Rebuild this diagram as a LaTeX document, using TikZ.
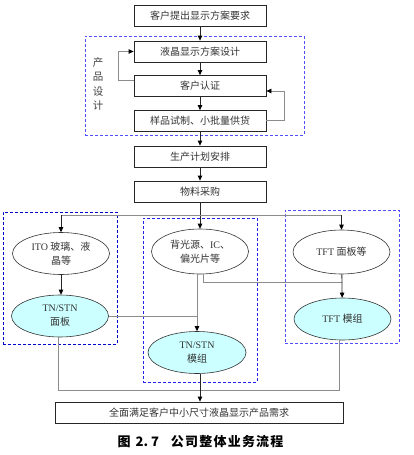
\documentclass[tikz,border=0pt]{standalone}
\usepackage{fontspec}
\setmainfont{Liberation Serif}
\newfontfamily\cjk{Noto Sans CJK SC}
\usetikzlibrary{arrows.meta,calc,shapes.geometric}
\definecolor{cyfill}{HTML}{CCFFFF}
\definecolor{grpdark}{HTML}{0000CC}
\definecolor{grpmid}{HTML}{2222EE}
\definecolor{grplight}{HTML}{5050FF}
\begin{document}
\begin{tikzpicture}[x=1pt,y=-1pt,
  box/.style={draw=black!85,line width=0.8pt,minimum width=132pt,minimum height=21pt,inner sep=0pt,
    font=\cjk\fontsize{10}{12}\selectfont,text=black!80},
  ell/.style={ellipse,draw=black!80,line width=0.6pt,minimum width=97pt,minimum height=42pt,inner sep=0pt,
    align=center,font=\fontsize{10}{14}\selectfont,text=black!80},
  cy/.style={ell,fill=cyfill},
  grp/.style={draw,line width=0.7pt,dash pattern=on 3pt off 2pt,inner sep=0pt},
  arr/.style={-{Triangle[length=5pt,width=4.5pt,color=black]},line width=0.8pt,draw=black!85},
  garr/.style={-{Triangle[length=5pt,width=4.5pt,color=black]},line width=0.8pt,draw=black!45},
  gl/.style={line width=0.8pt,draw=black!45}
]
\useasboundingbox (0,0) rectangle (413,455);

% group frames
\node[grp,draw=grplight,minimum width=219pt,minimum height=99pt] (gP) at (194.5,85.5) {};
\node[grp,draw=grpdark,minimum width=114pt,minimum height=132pt] (gL) at (60,278) {};
\node[grp,draw=grpmid,minimum width=114pt,minimum height=164pt] (gM) at (200,300) {};
\node[grp,draw=grplight,minimum width=114pt,minimum height=133pt] (gR) at (342,276.5) {};

% main boxes
\node[box] (b1) at (200,16) {客户提出显示方案要求};
\node[box] (b2) at (200,51.5) {液晶显示方案设计};
\node[box] (b3) at (200,86) {客户认证};
\node[box] (b4) at (200,121) {样品试制、小批量供货};
\node[box] (b5) at (200,156.5) {生产计划安排};
\node[box] (b6) at (200,191.5) {物料采购};
\node[box,minimum width=288pt] (b7) at (199,412.5) {全面满足客户中小尺寸液晶显示产品需求};

\node[align=center,font=\cjk\fontsize{10.5}{14.5}\selectfont,text=black!75] (lab) at (98,84) {产\\品\\设\\计};

% ellipses
\node[ell] (e1) at (61,253.5) {ITO {\cjk 玻璃、液}\\{\cjk 晶等}};
\node[ell,minimum height=45pt] (e2) at (200,251.5) {{\cjk 背光源、}IC{\cjk 、}\\{\cjk 偏光片等}};
\node[ell,minimum height=44pt] (e3) at (341.5,252) {TFT {\cjk 面板等}};
\node[cy] (e4) at (60,316) {TN/STN\\{\cjk 面板}};
\node[cy,minimum width=98pt] (e5) at (197,352.5) {TN/STN\\{\cjk 模组}};
\node[cy] (e6) at (342.5,319) {TFT {\cjk 模组}};

\node[font=\cjk\bfseries\fontsize{13}{15}\selectfont] (cap) at (200.5,442)
  {图\hspace{5pt}2.\hspace{3pt}7\hspace{12pt}公\kern1.2pt司\kern1.2pt整\kern1.2pt体\kern1.2pt业\kern1.2pt务\kern1.2pt流\kern1.2pt程};

% main chain
\draw[arr] (b1) -- (b2);
\draw[arr] (b2) -- (b3);
\draw[arr] (b3) -- (b4);
\draw[arr] (b4) -- (b5);
\draw[arr] (b5) -- (b6);

% feedback loops
\draw[garr] ([yshift=6pt]b3.west) -- ++(-15,0) |- (b2.west);
\draw[garr] ([yshift=1pt]b4.east) -- ++(18,0) |- ([yshift=-5pt]b3.east);

% distribution
\coordinate (d) at (200,215);
\draw[arr] (b6) -- (e2);
\draw[gl] (d -| e1) -- (d -| e3);
\draw[arr] (d -| e1) -- (e1);
\draw[arr] (d -| e3) -- (e3);

% lower connections
\draw[arr] (e1.south) -- (e1.south |- e4.north);
\coordinate (j) at (197,316);
\draw[gl] (e4.east) -- (j);
\draw[garr] (j |- e2.south) -- (e5.north);
\coordinate (k) at (203,282);
\draw[gl] (k |- e2.south) -- (k) -- (k -| e3);
\draw[arr] (e3) -- (e6);

\coordinate (m) at (200,390);
\draw[gl] ([xshift=-2pt]e4.south) |- ([xshift=-3.5pt]e6.south |- m) -- ([xshift=-3.5pt]e6.south);
\draw[arr] ([xshift=3pt]e5.south) -- ([xshift=3pt]e5.south |- b7.north);
\end{tikzpicture}
\end{document}
